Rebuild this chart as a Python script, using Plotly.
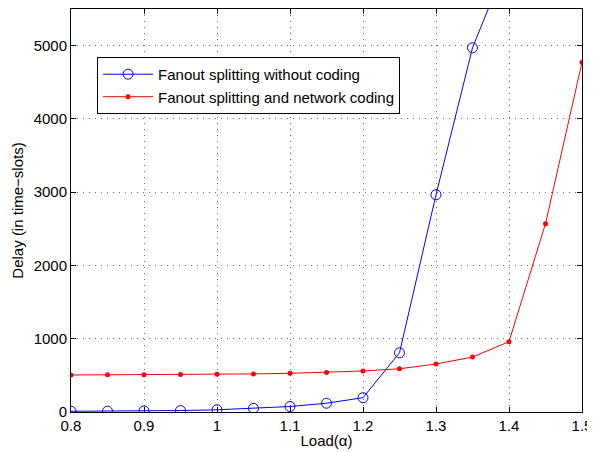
import plotly.graph_objects as go

load = [0.8, 0.85, 0.9, 0.95, 1.0, 1.05, 1.1, 1.15, 1.2, 1.25, 1.3, 1.35, 1.4, 1.45, 1.5]
delay_no_coding = [10, 12, 15, 20, 30, 50, 75, 120, 195, 808, 2965, 4970, 6200]
delay_coding = [505, 507, 510, 512, 515, 520, 528, 540, 560, 590, 655, 750, 960, 2570, 4772]
x_ticks = [0.8, 0.9, 1.0, 1.1, 1.2, 1.3, 1.4, 1.5]
x_tick_labels = ["0.8", "0.9", "1", "1.1", "1.2", "1.3", "1.4", "1.5"]
y_ticks = [0, 1000, 2000, 3000, 4000, 5000]

font = "Liberation Sans, Arial, sans-serif"

fig = go.Figure()
fig.add_trace(go.Scatter(
    x=load[:len(delay_no_coding)], y=delay_no_coding, mode="lines+markers",
    name="Fanout splitting without coding",
    line=dict(color="#0000ff", width=1),
    marker=dict(symbol="circle-open", size=10, color="#0000ff", line=dict(width=1)),
))
fig.add_trace(go.Scatter(
    x=load, y=delay_coding, mode="lines+markers",
    name="Fanout splitting and network coding",
    line=dict(color="#ff0000", width=1),
    marker=dict(symbol="circle", size=5, color="#ff0000"),
))

axis_common = dict(
    showline=True, linecolor="black", linewidth=1, mirror="ticks",
    ticks="inside", ticklen=5, tickcolor="black", tickwidth=1,
    showgrid=True, gridcolor="#6e6e6e", griddash="1px,5px", gridwidth=1,
    zeroline=False, automargin=False,
    tickfont=dict(family=font, size=15, color="black"),
)

fig.update_xaxes(range=[0.8, 1.5], tickvals=x_ticks, ticktext=x_tick_labels,
                 title=dict(text="Load(α)", font=dict(family=font, size=15, color="black"), standoff=2),
                 **axis_common)
fig.update_yaxes(range=[0, 5500], tickvals=y_ticks,
                 title=dict(text="Delay (in time−slots)", font=dict(family=font, size=15, color="black"), standoff=6),
                 **axis_common)

# page body has an 8px default margin, so the figure is sized to fit the window
fig.update_layout(
    width=587, height=444,
    margin=dict(l=63, r=13, t=1, b=40),
    plot_bgcolor="white", paper_bgcolor="white",
    showlegend=True,
    legend=dict(x=0.051, y=0.881, xanchor="left", yanchor="top",
                bgcolor="white", bordercolor="black", borderwidth=1,
                font=dict(family=font, size=15, color="black"),
                tracegroupgap=0, itemwidth=50),
)

fig.write_html("out.html")
